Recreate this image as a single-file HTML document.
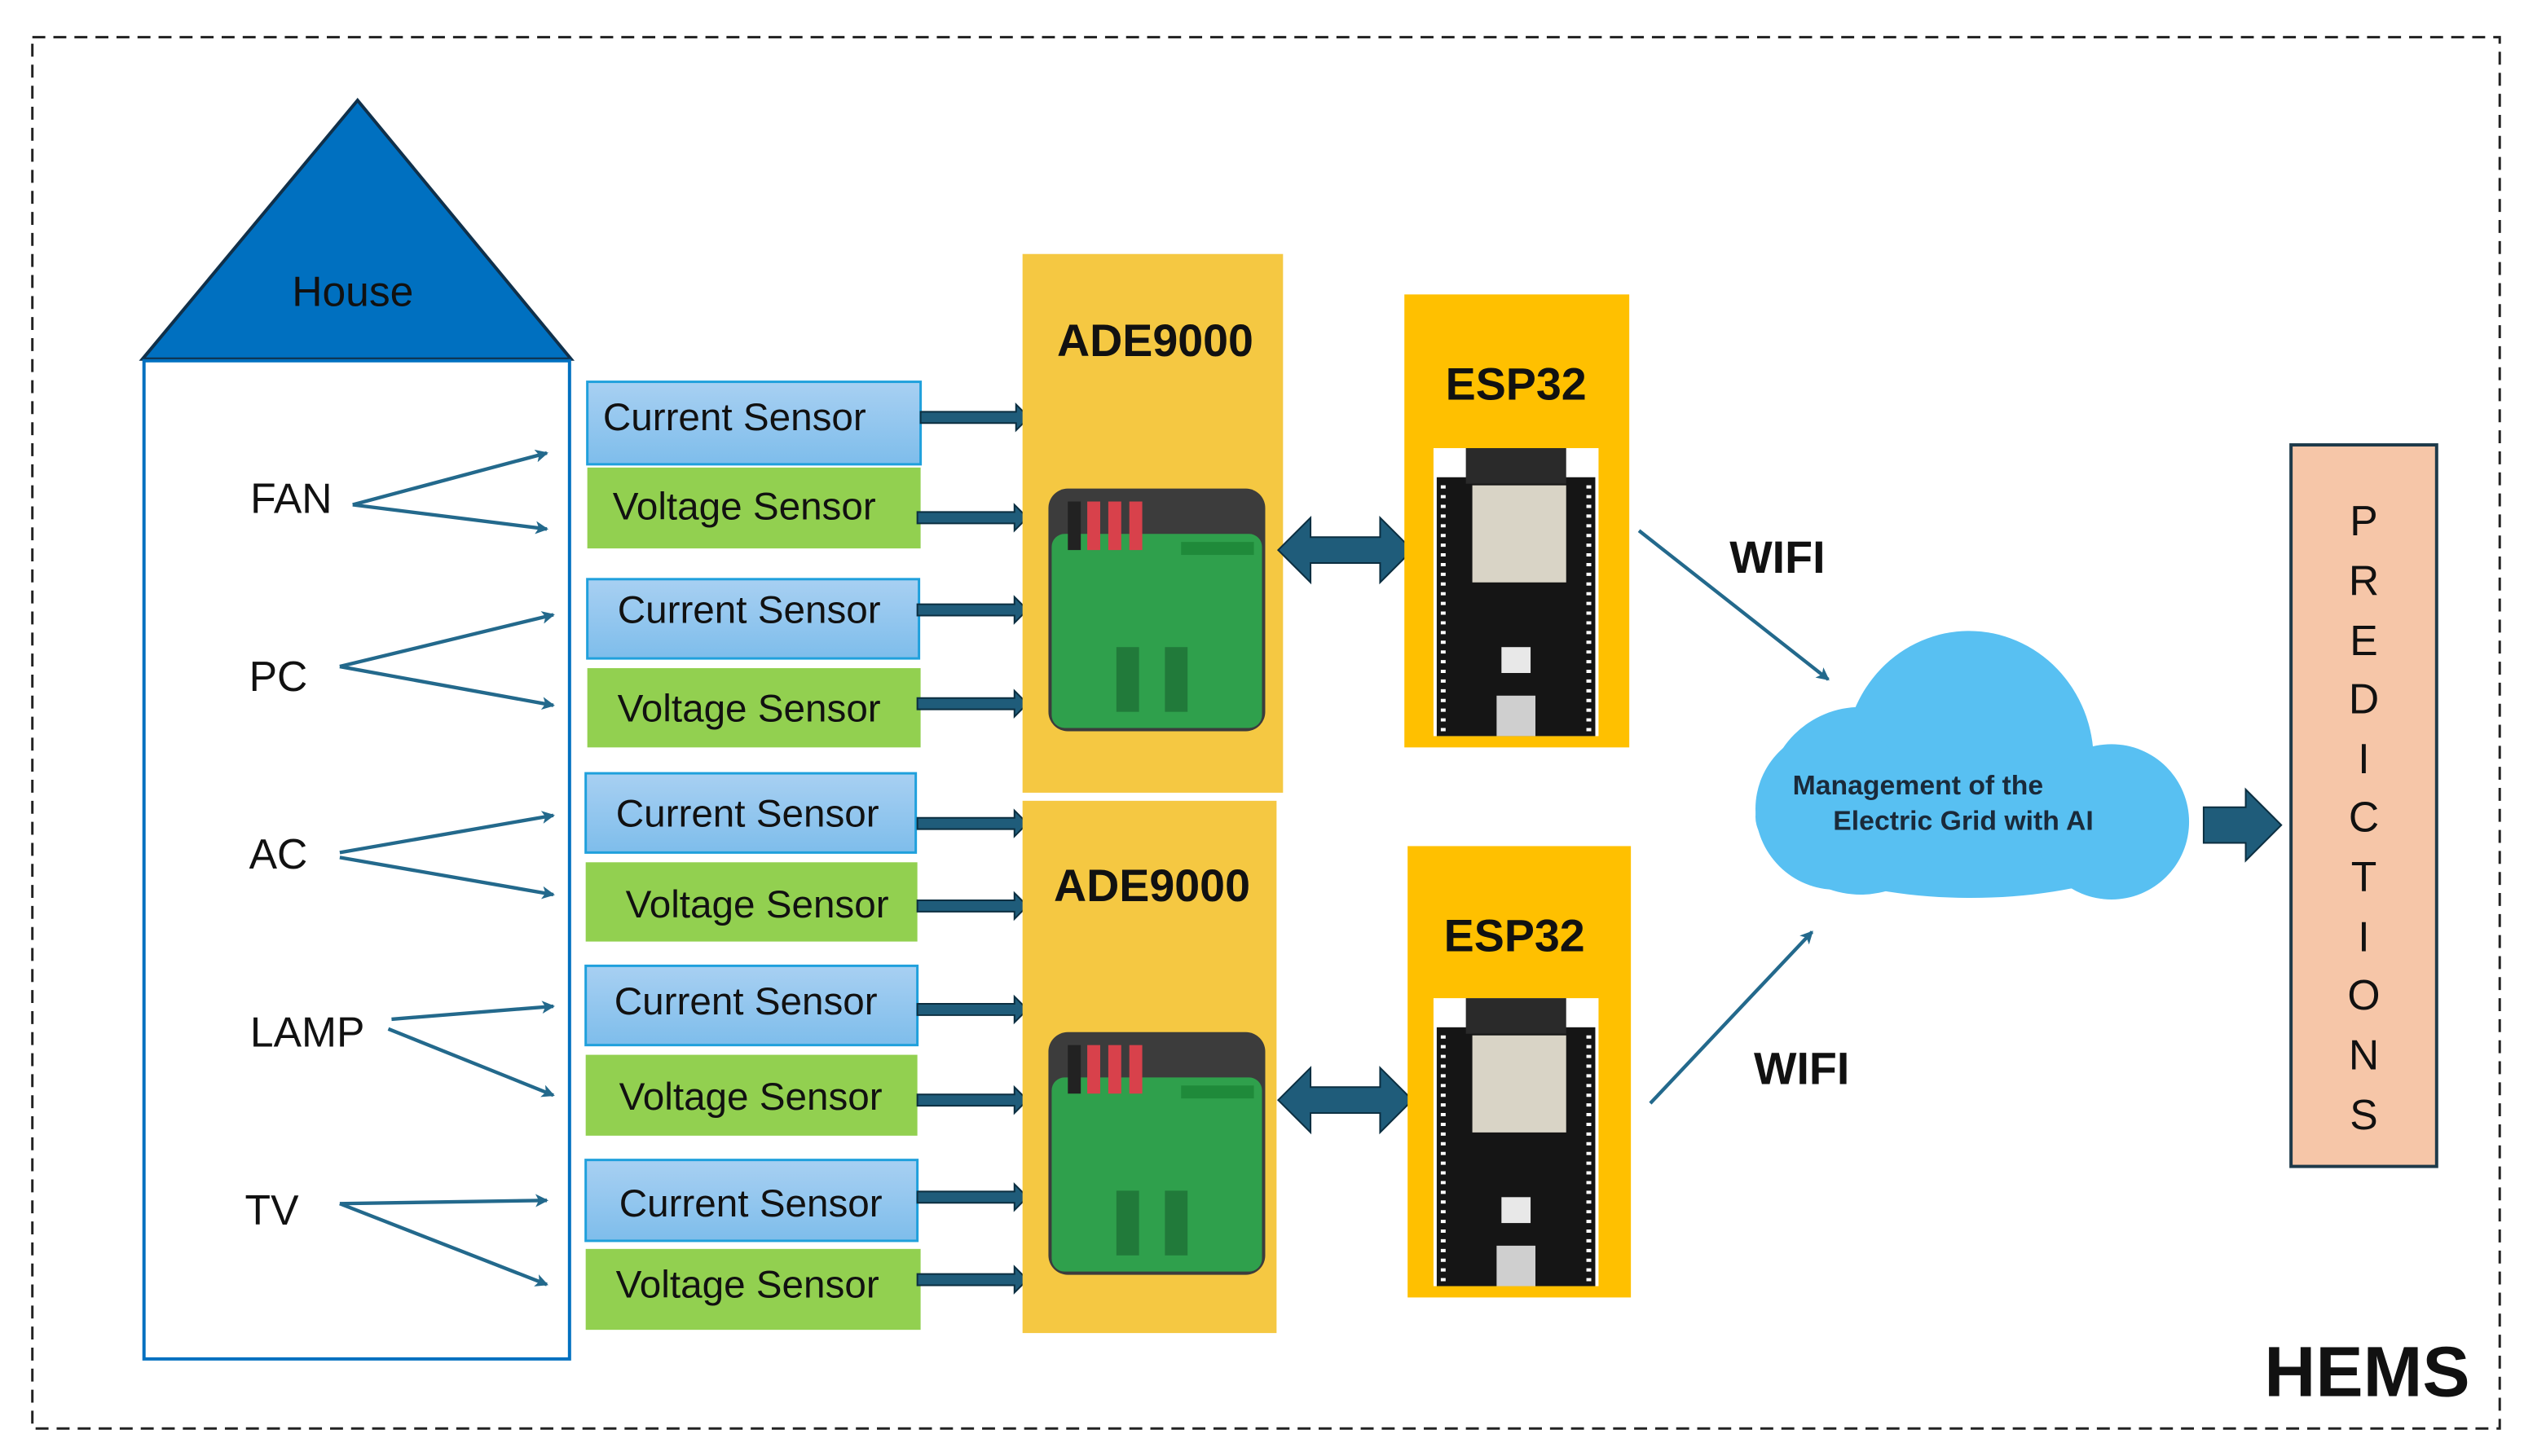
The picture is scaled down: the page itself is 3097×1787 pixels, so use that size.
<!DOCTYPE html>
<html><head><meta charset="utf-8"><style>
html,body{margin:0;padding:0;background:#fff;}
svg{display:block;}
text{font-family:"Liberation Sans",sans-serif;}
</style></head><body>
<svg width="3097" height="1787" viewBox="0 0 1560 900" preserveAspectRatio="none" xmlns="http://www.w3.org/2000/svg">
<defs>
<marker id="ah" markerWidth="8" markerHeight="8" refX="7" refY="4" orient="auto" markerUnits="userSpaceOnUse"><path d="M0,0 L8,4 L0,8 L2,4 Z" fill="#23698C"/></marker>
<linearGradient id="cg" x1="0" y1="0" x2="0" y2="1"><stop offset="0" stop-color="#A8D0F2"/><stop offset="1" stop-color="#7EBDEB"/></linearGradient>
</defs>
<rect x="0" y="0" width="1560" height="900" fill="#fff"/>
<rect x="20" y="23" width="1525" height="860" fill="none" stroke="#222" stroke-width="1.5" stroke-dasharray="8,5"/>

<!-- House -->
<polygon points="221,62 88,222 353,222" fill="#0070C0" stroke="#10304A" stroke-width="2"/>
<text x="218" y="189" font-size="26" text-anchor="middle" fill="#111">House</text>
<rect x="89" y="223" width="263" height="617" fill="none" stroke="#0070C0" stroke-width="2"/>
<g font-size="26" fill="#111" text-anchor="middle">
<text x="180" y="317">FAN</text><text x="172" y="427">PC</text><text x="172" y="537">AC</text><text x="190" y="647">LAMP</text><text x="168" y="757">TV</text>
</g>
<g stroke="#23698C" stroke-width="2.2" fill="none" marker-end="url(#ah)">
<line x1="218" y1="312" x2="338" y2="280"/><line x1="218" y1="312" x2="338" y2="327"/>
<line x1="210" y1="412" x2="342" y2="380"/><line x1="210" y1="412" x2="342" y2="436"/>
<line x1="210" y1="527" x2="342" y2="504"/><line x1="210" y1="530" x2="342" y2="553"/>
<line x1="242" y1="630" x2="342" y2="622"/><line x1="240" y1="636" x2="342" y2="677"/>
<line x1="210" y1="744" x2="338" y2="742"/><line x1="210" y1="744" x2="338" y2="794"/>
</g>

<!-- Sensors -->
<g stroke="#1FA0DC" stroke-width="1.5" fill="url(#cg)">
<rect x="363" y="236" width="206" height="51"/><rect x="363" y="358" width="205" height="49"/>
<rect x="362" y="478" width="204" height="49"/><rect x="362" y="597" width="205" height="49"/>
<rect x="362" y="717" width="205" height="50"/>
</g>
<g fill="#92D050">
<rect x="363" y="289" width="206" height="50"/><rect x="363" y="413" width="206" height="49"/>
<rect x="362" y="533" width="205" height="49"/><rect x="362" y="652" width="205" height="50"/>
<rect x="362" y="772" width="207" height="50"/>
</g>
<g font-size="24" fill="#111" text-anchor="middle">
<text x="454" y="266">Current Sensor</text><text x="460" y="321">Voltage Sensor</text>
<text x="463" y="385">Current Sensor</text><text x="463" y="446">Voltage Sensor</text>
<text x="462" y="511">Current Sensor</text><text x="468" y="567">Voltage Sensor</text>
<text x="461" y="627">Current Sensor</text><text x="464" y="686">Voltage Sensor</text>
<text x="464" y="752">Current Sensor</text><text x="462" y="802">Voltage Sensor</text>
</g>
<g fill="#1F5C7A" stroke="#0B2E40" stroke-width="1">
<polygon points="569,254.5 628,254.5 628,250 636,258 628,266 628,261.5 569,261.5"/>
<polygon points="567,316.5 627,316.5 627,312 635,320 627,328 627,323.5 567,323.5"/>
<polygon points="567,373.5 627,373.5 627,369 635,377 627,385 627,380.5 567,380.5"/>
<polygon points="567,431.5 627,431.5 627,427 635,435 627,443 627,438.5 567,438.5"/>
<polygon points="567,505.5 627,505.5 627,501 635,509 627,517 627,512.5 567,512.5"/>
<polygon points="567,556.5 627,556.5 627,552 635,560 627,568 627,563.5 567,563.5"/>
<polygon points="567,620.5 627,620.5 627,616 635,624 627,632 627,627.5 567,627.5"/>
<polygon points="567,676.5 627,676.5 627,672 635,680 627,688 627,683.5 567,683.5"/>
<polygon points="567,736.5 627,736.5 627,732 635,740 627,748 627,743.5 567,743.5"/>
<polygon points="567,787.5 627,787.5 627,783 635,791 627,799 627,794.5 567,794.5"/>
</g>

<!-- ADE9000 -->
<rect x="632" y="157" width="161" height="333" fill="#F5C842"/>
<rect x="632" y="495" width="157" height="329" fill="#F5C842"/>
<g font-size="28" font-weight="bold" fill="#111" text-anchor="middle">
<text x="714" y="220">ADE9000</text><text x="712" y="557">ADE9000</text>
</g>
<g id="pcb1">
<rect x="648" y="302" width="134" height="150" rx="12" fill="#3C3C3C"/>
<rect x="650" y="330" width="130" height="120" rx="8" fill="#2FA04C"/>
<rect x="660" y="310" width="8" height="30" fill="#222"/>
<rect x="672" y="310" width="8" height="30" fill="#D8414B"/>
<rect x="685" y="310" width="8" height="30" fill="#D8414B"/>
<rect x="698" y="310" width="8" height="30" fill="#D8414B"/>
<rect x="730" y="335" width="45" height="8" fill="#1F8A3A"/>
<rect x="690" y="400" width="14" height="40" fill="#217A3A"/>
<rect x="720" y="400" width="14" height="40" fill="#217A3A"/>
</g>
<g transform="translate(0,336)">
<rect x="648" y="302" width="134" height="150" rx="12" fill="#3C3C3C"/>
<rect x="650" y="330" width="130" height="120" rx="8" fill="#2FA04C"/>
<rect x="660" y="310" width="8" height="30" fill="#222"/>
<rect x="672" y="310" width="8" height="30" fill="#D8414B"/>
<rect x="685" y="310" width="8" height="30" fill="#D8414B"/>
<rect x="698" y="310" width="8" height="30" fill="#D8414B"/>
<rect x="730" y="335" width="45" height="8" fill="#1F8A3A"/>
<rect x="690" y="400" width="14" height="40" fill="#217A3A"/>
<rect x="720" y="400" width="14" height="40" fill="#217A3A"/>
</g>

<!-- double arrows -->
<g fill="#1F5C7A" stroke="#0B2E40" stroke-width="1">
<polygon points="790,340 810,320 810,332 853,332 853,320 873,340 853,360 853,348 810,348 810,360"/>
<polygon points="790,680 810,660 810,672 853,672 853,660 873,680 853,700 853,688 810,688 810,700"/>
</g>

<!-- ESP32 -->
<rect x="868" y="182" width="139" height="280" fill="#FFC000"/>
<rect x="870" y="523" width="138" height="279" fill="#FFC000"/>
<g font-size="28" font-weight="bold" fill="#111" text-anchor="middle">
<text x="937" y="247">ESP32</text><text x="936" y="588">ESP32</text>
</g>
<g>
<rect x="886" y="277" width="102" height="178" fill="#fff"/>
<rect x="888" y="295" width="98" height="160" fill="#151515"/>
<rect x="906" y="277" width="62" height="22" fill="#2A2A2A"/>
<rect x="910" y="300" width="58" height="60" fill="#D9D4C6"/>
<rect x="928" y="400" width="18" height="16" fill="#E8E8E8"/>
<rect x="925" y="430" width="24" height="25" fill="#CFCFCF"/>
<line x1="892" y1="300" x2="892" y2="452" stroke="#fff" stroke-width="3" stroke-dasharray="2,4"/>
<line x1="982" y1="300" x2="982" y2="452" stroke="#fff" stroke-width="3" stroke-dasharray="2,4"/>
</g>
<g transform="translate(0,340)">
<rect x="886" y="277" width="102" height="178" fill="#fff"/>
<rect x="888" y="295" width="98" height="160" fill="#151515"/>
<rect x="906" y="277" width="62" height="22" fill="#2A2A2A"/>
<rect x="910" y="300" width="58" height="60" fill="#D9D4C6"/>
<rect x="928" y="400" width="18" height="16" fill="#E8E8E8"/>
<rect x="925" y="430" width="24" height="25" fill="#CFCFCF"/>
<line x1="892" y1="300" x2="892" y2="452" stroke="#fff" stroke-width="3" stroke-dasharray="2,4"/>
<line x1="982" y1="300" x2="982" y2="452" stroke="#fff" stroke-width="3" stroke-dasharray="2,4"/>
</g>

<!-- WIFI -->
<g stroke="#23698C" stroke-width="2.2" marker-end="url(#ah)">
<line x1="1013" y1="328" x2="1130" y2="420"/>
<line x1="1020" y1="682" x2="1120" y2="576"/>
</g>
<g font-size="28" font-weight="bold" fill="#111">
<text x="1069" y="354">WIFI</text><text x="1084" y="670">WIFI</text>
</g>

<!-- Cloud -->
<g fill="#58C0F2">
<ellipse cx="1218" cy="505" rx="133" ry="50"/>
<ellipse cx="1217" cy="470" rx="77" ry="80"/>
<circle cx="1150" cy="495" r="58"/>
<circle cx="1305" cy="508" r="48"/>
<circle cx="1135" cy="500" r="50"/>
</g>
<g font-size="17" font-weight="bold" fill="#1A2A3A">
<text x="1108" y="491">Management of the</text>
<text x="1133" y="513">Electric Grid with AI</text>
</g>
<polygon points="1362,499 1388,499 1388,488 1410,510 1388,532 1388,521 1362,521" fill="#1F5C7A" stroke="#0B2E40" stroke-width="1"/>

<!-- PREDICTIONS -->
<rect x="1416" y="275" width="90" height="446" fill="#F6C6A8" stroke="#1E3A4A" stroke-width="2"/>
<g font-size="26" fill="#111" text-anchor="middle">
<text x="1461" y="331">P</text><text x="1461" y="368">R</text><text x="1461" y="405">E</text><text x="1461" y="441">D</text>
<text x="1461" y="478">I</text><text x="1461" y="514">C</text><text x="1461" y="551">T</text><text x="1461" y="588">I</text>
<text x="1461" y="624">O</text><text x="1461" y="661">N</text><text x="1461" y="698">S</text>
</g>
<text x="1463" y="863" font-size="44" font-weight="bold" fill="#111" text-anchor="middle">HEMS</text>
</svg>
</body></html>
